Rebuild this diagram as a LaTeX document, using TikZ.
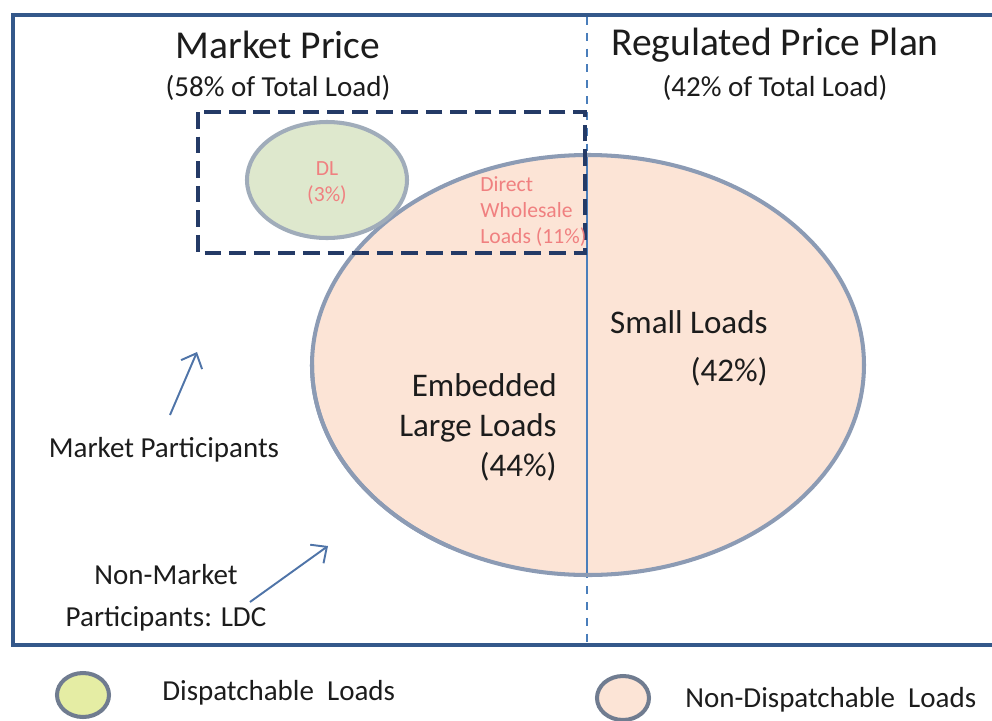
\documentclass[tikz,border=0pt]{standalone}
\usepackage{fontspec}
\setmainfont{Carlito}
\usetikzlibrary{arrows.meta}
\definecolor{framecol}{RGB}{52,88,138}
\definecolor{boxcol}{RGB}{36,58,102}
\definecolor{divcol}{RGB}{74,126,187}
\definecolor{ndlfill}{RGB}{252,228,214}
\definecolor{dlfill}{RGB}{222,232,205}
\definecolor{rimcol}{RGB}{140,155,180}
\definecolor{dlrim}{RGB}{160,172,186}
\definecolor{pinkcol}{RGB}{240,128,128}
\definecolor{arrcol}{RGB}{79,116,168}
\definecolor{txtcol}{RGB}{28,28,28}
\tikzset{
  headtext/.style={font=\fontsize{22.5}{27}\selectfont, text=txtcol, inner sep=0pt},
  subtext/.style={font=\fontsize{16.5}{20}\selectfont, text=txtcol, inner sep=0pt},
  loadtext/.style={font=\fontsize{18.8}{22.7}\selectfont, text=txtcol, inner sep=0pt},
  smalltext/.style={font=\fontsize{12.3}{14.8}\selectfont, text=pinkcol, inner sep=0pt},
  pointer/.style={-{Straight Barb[length=7pt,width=13pt]}, arrcol, line width=1.1pt}
}
\begin{document}
\begin{tikzpicture}[x=0.02cm,y=-0.02cm]
  \useasboundingbox (0,0) rectangle (992,721);

  % frame
  \draw[framecol, line width=2.3pt] (992,15) -- (13,15) -- (13,645) -- (992,645);

  % loads
  \fill[ndlfill] (588,365) ellipse [x radius=276, y radius=210];
  \draw[divcol, line width=1.1pt, dash pattern=on 4.5pt off 4.5pt] (587,17) -- (587,643);
  \draw[divcol, line width=1.1pt] (587,155) -- (587,575);
  \draw[rimcol, line width=2.3pt] (588,365) ellipse [x radius=276, y radius=210];
  \draw[dlrim, line width=2.3pt, fill=dlfill] (327,180) ellipse [x radius=80, y radius=58];
  \draw[rimcol, line width=2.3pt] (312,365) arc[start angle=180, end angle=120, x radius=276, y radius=210];
  \draw[boxcol, line width=2.8pt, dash pattern=on 9.5pt off 4.5pt] (198,112) rectangle (585,253);

  % headings
  \node[headtext] (mp) at (278,45) {Market Price};
  \node[subtext] (mpshare) at (278,88) {(58\% of Total Load)};
  \node[headtext] (rpp) at (775,45) {Regulated Price Plan};
  \node[subtext] (rppshare) at (775,88) {(42\% of Total Load)};

  \node[smalltext, align=center] (dl) at (327,183) {DL\\(3\%)};
  \node[smalltext, align=left, anchor=west] (dwl) at (480,212) {Direct\\Wholesale\\Loads (11\%)};
  \node[loadtext, align=right, anchor=east] (ell) at (557,427) {Embedded\\Large Loads\\(44\%)};
  \node[loadtext, align=right, anchor=north east] (sl) at (768,310) {Small Loads\\[5pt](42\%)};

  \node[subtext] (mpart) at (164,450) {Market Participants};
  \node[subtext, align=center] (nmp) at (166,598) {Non-Market\\[4pt]Participants: LDC};
  \coordinate (mptip) at (197,352);
  \coordinate (mptail) at (170,415);
  \coordinate (nmptip) at (328,546);
  \coordinate (nmptail) at (250,602);
  \draw[pointer] (mptail) -- (mptip);
  \draw[pointer] (nmptail) -- (nmptip);

  % legend
  \draw[rimcol!80!black, line width=2.3pt, fill=dlfill!80!yellow] (83,695) ellipse [x radius=26, y radius=22];
  \node[subtext, anchor=west] (dlkey) at (162,693) {Dispatchable \ Loads};
  \draw[rimcol!80!black, line width=2.3pt, fill=ndlfill] (623,698) ellipse [x radius=26, y radius=22];
  \node[subtext, anchor=west] (ndlkey) at (685,700) {Non-Dispatchable \ Loads};
\end{tikzpicture}
\end{document}
